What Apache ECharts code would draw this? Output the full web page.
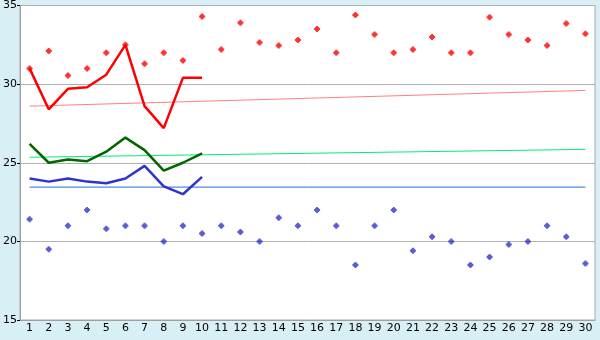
<!DOCTYPE html>
<html><head><meta charset="utf-8">
<script src="https://cdn.jsdelivr.net/npm/echarts@6/dist/echarts.min.js"></script>
<style>html,body{margin:0;padding:0;background:#d9eff6;}#c{width:600px;height:340px;}</style>
</head><body><div id="c"></div>
<script>
var categories = ['1','2','3','4','5','6','7','8','9','10','11','12','13','14','15','16','17','18','19','20','21','22','23','24','25','26','27','28','29','30'];
var redLine = [31.0, 28.4, 29.7, 29.8, 30.6, 32.5, 28.6, 27.2, 30.4, 30.4];
var greenLine = [26.2, 25.0, 25.2, 25.1, 25.7, 26.6, 25.8, 24.5, 25.0, 25.6];
var blueLine = [24.0, 23.8, 24.0, 23.8, 23.7, 24.0, 24.8, 23.5, 23.0, 24.1];
var redPoints = [31.0, 32.1, 30.55, 31.0, 32.0, 32.5, 31.3, 32.0, 31.5, 34.3, 32.2, 33.9, 32.65, 32.45, 32.8, 33.5, 32.0, 34.4, 33.15, 32.0, 32.2, 33.0, 32.0, 32.0, 34.25, 33.15, 32.8, 32.45, 33.85, 33.2];
var bluePoints = [21.4, 19.5, 21.0, 22.0, 20.8, 21.0, 21.0, 20.0, 21.0, 20.5, 21.0, 20.6, 20.0, 21.5, 21.0, 22.0, 21.0, 18.5, 21.0, 22.0, 19.4, 20.3, 20.0, 18.5, 19.0, 19.8, 20.0, 21.0, 20.3, 18.6];
var redTrend = [28.6, 29.6];    // first and last category
var greenTrend = [25.35, 25.85];
var blueFlat = 23.45;

var last = categories.length - 1;
var plus = 'path://M2,0 H4 V1 H5 V2 H6 V4 H5 V5 H4 V6 H2 V5 H1 V4 H0 V2 H1 V1 H2 Z';
var font = 'DejaVu Sans';
var chart = echarts.init(document.getElementById('c'), null, {renderer: 'canvas'});
chart.setOption({
  animation: false,
  backgroundColor: '#d9eff6',
  grid: {left: 20, right: 5, top: 5, bottom: 20, show: true, backgroundColor: '#ffffff', borderColor: '#a8a8a8', borderWidth: 1},
  xAxis: {
    type: 'category', data: categories, boundaryGap: true,
    axisLine: {lineStyle: {color: '#a0a0a0'}},
    axisTick: {alignWithLabel: true, length: 5, lineStyle: {color: '#000'}},
    axisLabel: {color: '#000', fontFamily: font, fontSize: 11, margin: 3, interval: 0},
    splitLine: {show: false}
  },
  yAxis: {
    type: 'value', min: 15, max: 35, interval: 5,
    axisLine: {show: true, lineStyle: {color: '#a0a0a0'}},
    axisTick: {show: true, length: 3, lineStyle: {color: '#000'}},
    axisLabel: {color: '#000', fontFamily: font, fontSize: 11, margin: 3},
    splitLine: {lineStyle: {color: '#b0b0b0', width: 1}}
  },
  series: [
    {type: 'line', data: [[0, redTrend[0]], [last, redTrend[1]]], symbol: 'none', lineStyle: {color: '#ff8080', width: 1}},
    {type: 'line', data: [[0, greenTrend[0]], [last, greenTrend[1]]], symbol: 'none', lineStyle: {color: '#00ee77', width: 1}},
    {type: 'line', data: [[0, blueFlat], [last, blueFlat]], symbol: 'none', lineStyle: {color: '#1f6fe0', width: 1}},
    {type: 'line', data: redLine, symbol: 'none', lineStyle: {color: '#ff0000', width: 2.5}},
    {type: 'line', data: greenLine, symbol: 'none', lineStyle: {color: '#006600', width: 2.5}},
    {type: 'line', data: blueLine, symbol: 'none', lineStyle: {color: '#3333cc', width: 2.5}},
    {type: 'scatter', data: redPoints, symbol: plus, symbolSize: 6, itemStyle: {color: '#ff0000'}},
    {type: 'scatter', data: bluePoints, symbol: plus, symbolSize: 6, itemStyle: {color: '#3333cc'}}
  ]
});
</script></body></html>
